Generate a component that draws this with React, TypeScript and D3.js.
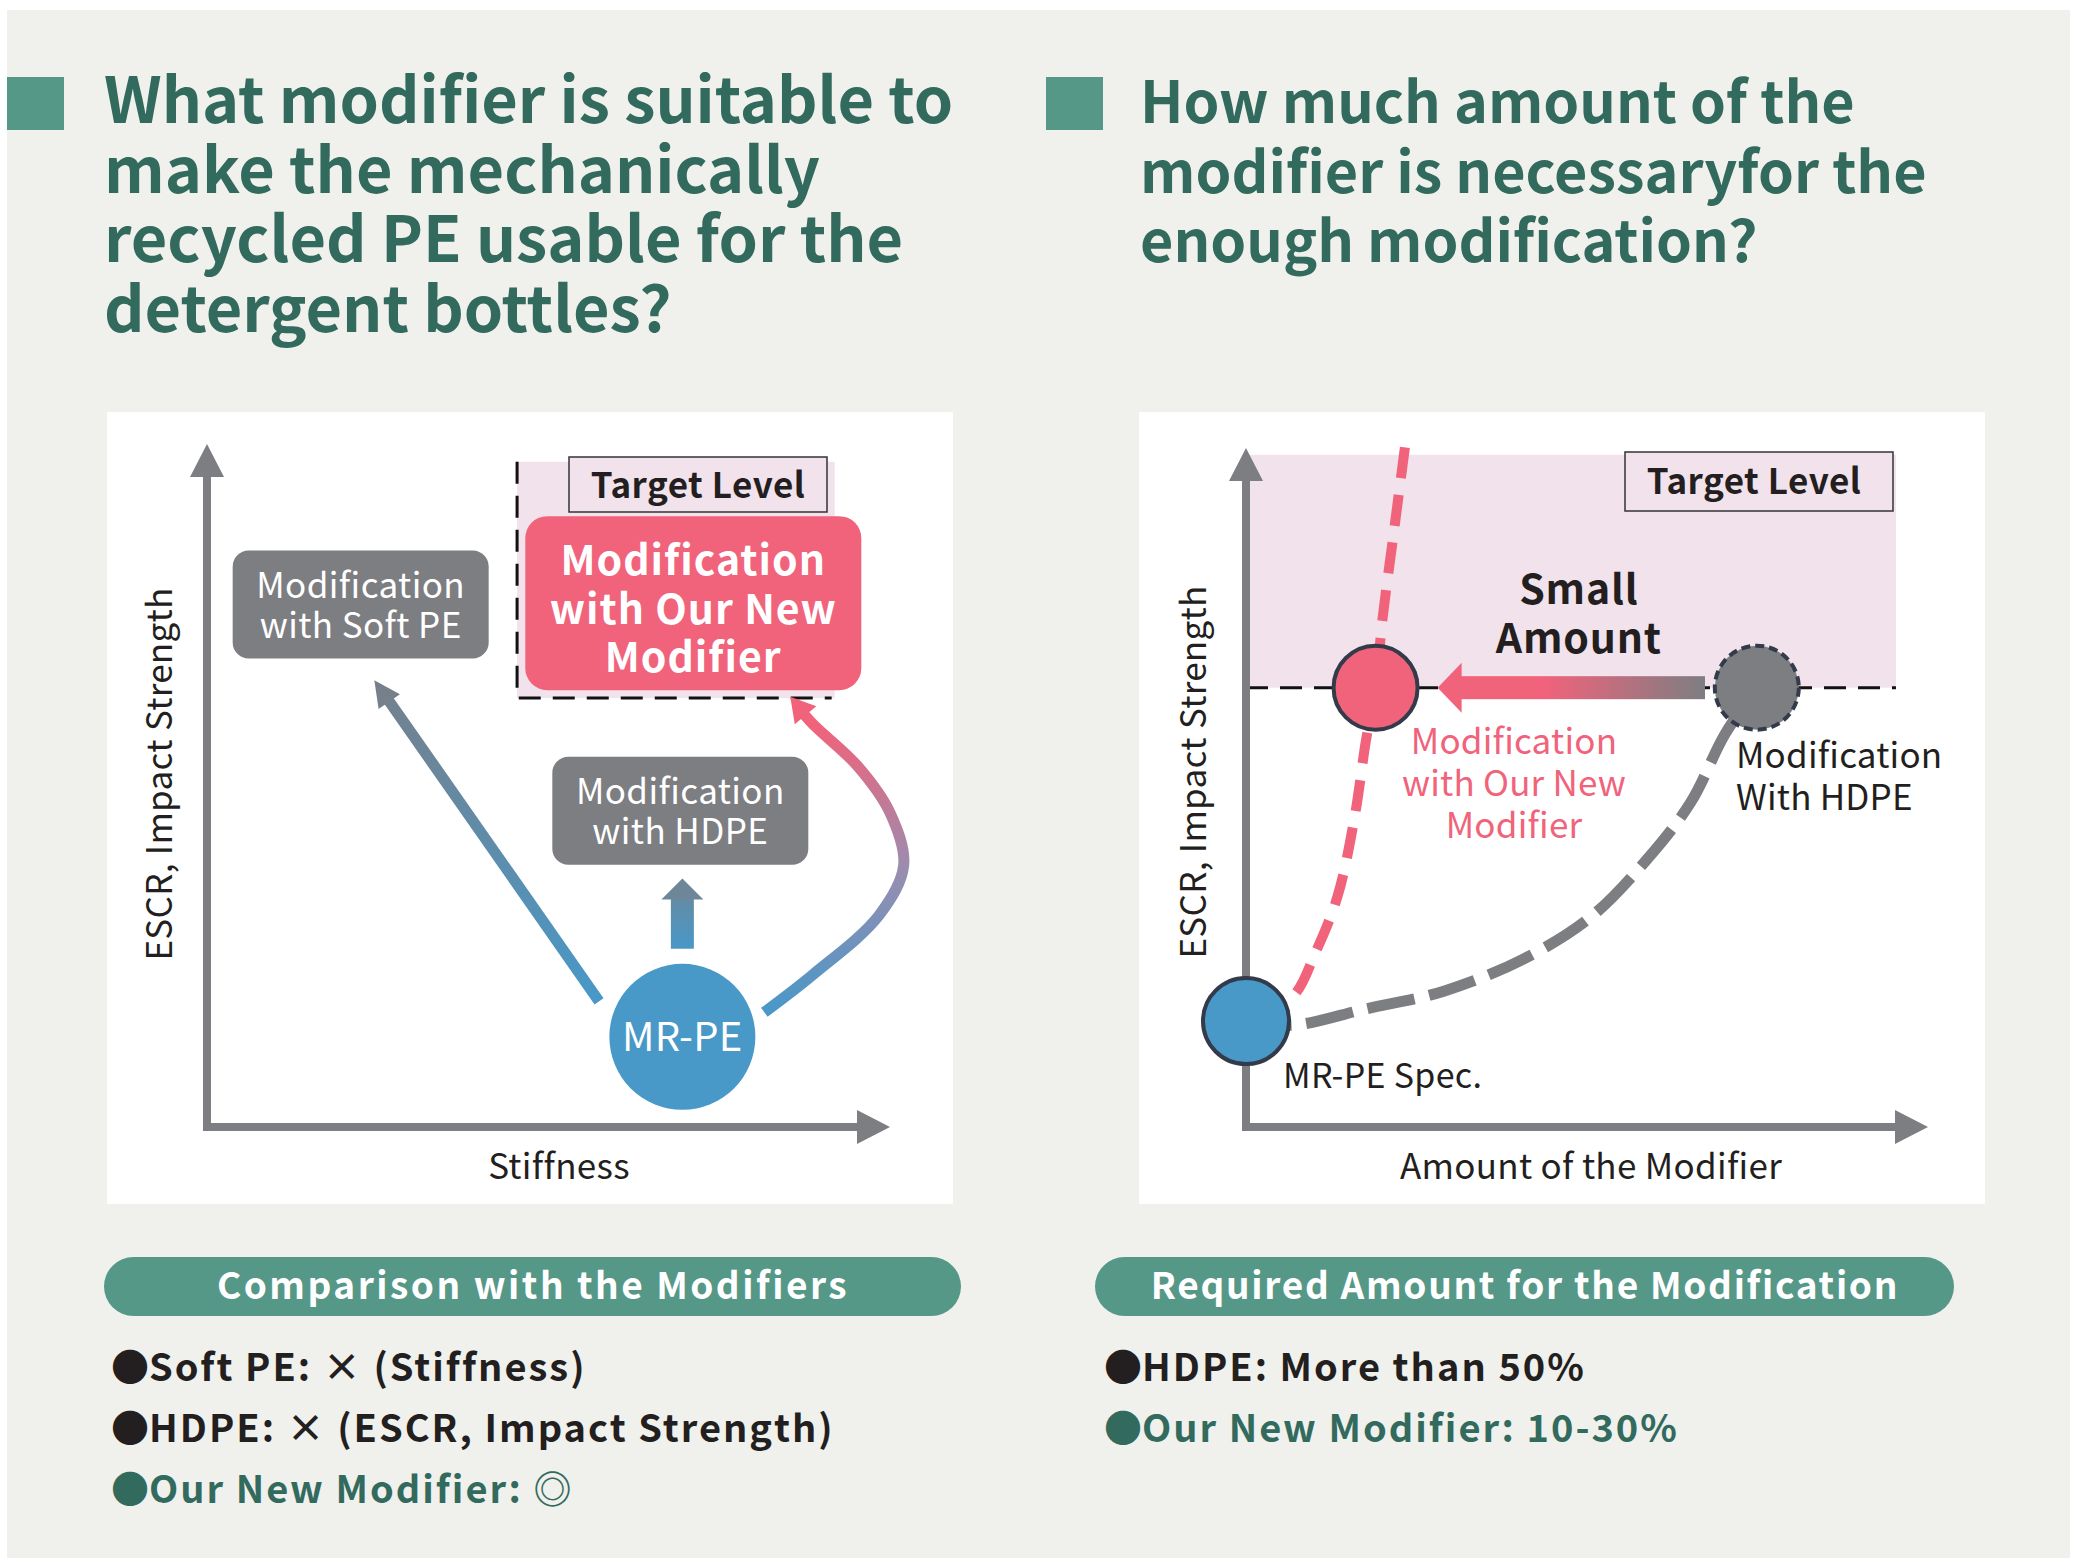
import React from 'react';
import * as d3 from 'd3';

const W = 2089;
const H = 1558;
const FONT = '"Noto Sans CJK JP", "Noto Sans", sans-serif';

const TEAL = '#559888';
const TEAL_DARK = '#336a5e';
const GRAY = '#7d7e82';
const PINK = '#f0637b';
const BLUE = '#4898c8';
const TARGET_FILL = '#f1e2ec';
const INK = '#231f20';

// headings
const leftTitle = ['What modifier is suitable to', 'make the mechanically', 'recycled PE usable for the', 'detergent bottles?'];
const rightTitle = ['How much amount of the', 'modifier is necessaryfor the', 'enough modification?'];

// left diagram, stiffness (x) vs ESCR / impact strength (y), 0-100 units
const mrpe = { x: 69.6, y: 13.2, label: 'MR-PE' };
const leftBoxes = [
  { x: 22.5, y: 76.5, lines: ['Modification', 'with Soft PE'] },
  { x: 69.3, y: 46.3, lines: ['Modification', 'with HDPE'] }
];
const newBox = { x: 71.2, y: 76.7, lines: ['Modification', 'with Our New', 'Modifier'] };
const leftTarget = { x0: 45.4, x1: 91.9, y0: 62.8, y1: 97.4 };
const softArrow: [number, number][] = [[57.4, 18.4], [24.5, 65.4]];
const hdpeArrow: [number, number][] = [[69.6, 26.1], [69.6, 36.4]];
const newArrow: [number, number][] = [[81.6, 16.8], [88.7, 22.3], [98.4, 31.0], [102, 38.3], [100, 46], [95.2, 52.9], [88.7, 59], [85.4, 63]];

// right diagram, amount of modifier (x) vs ESCR (y), 0-100 units
const targetLevel = 64.7;
const specPoint = { x: 0, y: 15.6 };
const newModPoint = { x: 19, y: targetLevel };
const hdpePoint = { x: 74.9, y: targetLevel };
const newModCurve: [number, number][] = [[23.3, 100.1], [21.7, 87.8], [20, 74.7], [19, 64.7], [17.6, 57], [15.9, 45.5], [13.4, 33.9], [10.1, 25.5], [6.9, 19.3], [0, 15.6]];
const hdpeCurve: [number, number][] = [[74.9, 64.7], [70.2, 57.8], [65.2, 47.8], [58.7, 39.3], [50.4, 30.8], [40.6, 24.7], [29, 20], [17.6, 17.4], [6.9, 15], [0, 15.6]];
const smallArrow: [number, number][] = [[67.3, targetLevel], [28.1, targetLevel]];

// summaries
const leftSummary = 'Comparison with the Modifiers';
const rightSummary = 'Required Amount for the Modification';
const leftBullets = [
  { text: 'Soft PE: × (Stiffness)', color: INK },
  { text: 'HDPE: × (ESCR, Impact Strength)', color: INK },
  { text: 'Our New Modifier: ◎', color: TEAL_DARK }
];
const rightBullets = [
  { text: 'HDPE: More than 50%', color: INK },
  { text: 'Our New Modifier: 10-30%', color: TEAL_DARK }
];

const head = (tip: [number, number], from: [number, number], len: number, half: number) => {
  const dx = tip[0] - from[0];
  const dy = tip[1] - from[1];
  const d = Math.hypot(dx, dy) || 1;
  const ux = dx / d, uy = dy / d;
  const bx = tip[0] - ux * len, by = tip[1] - uy * len;
  return `${tip[0]},${tip[1]} ${bx - uy * half},${by + ux * half} ${bx + uy * half},${by - ux * half}`;
};

const App: React.FC = () => {
  const xL = d3.scaleLinear().domain([0, 100]).range([207, 890]);
  const yL = d3.scaleLinear().domain([0, 100]).range([1127, 444]);
  const xR = d3.scaleLinear().domain([0, 100]).range([1246, 1928]);
  const yR = d3.scaleLinear().domain([0, 100]).range([1127, 448]);

  const lineL = d3.line<[number, number]>().x(d => xL(d[0])).y(d => yL(d[1])).curve(d3.curveCatmullRom.alpha(0.5));
  const lineR = d3.line<[number, number]>().x(d => xR(d[0])).y(d => yR(d[1])).curve(d3.curveCatmullRom.alpha(0.5));

  const px = (s: d3.ScaleLinear<number, number>, t: d3.ScaleLinear<number, number>, p: [number, number]): [number, number] => [s(p[0]), t(p[1])];

  const axis = (x: d3.ScaleLinear<number, number>, y: d3.ScaleLinear<number, number>) => {
    const ox = x(0), oy = y(0), tx = x(100), ty = y(100);
    return <g>
        <path d={`M${ox},${ty + 30} V${oy} H${tx - 30}`} fill="none" stroke={GRAY} strokeWidth={8} strokeLinejoin="miter" />
        <polygon points={head([ox, ty], [ox, oy], 33, 17)} fill={GRAY} />
        <polygon points={head([tx, oy], [ox, oy], 33, 17)} fill={GRAY} />
      </g>;
  };

  const softTip = px(xL, yL, softArrow[1]);
  const softFrom = px(xL, yL, softArrow[0]);
  const hdpeTip = px(xL, yL, hdpeArrow[1]);
  const hdpeFrom = px(xL, yL, hdpeArrow[0]);
  const newPts = newArrow.map(p => px(xL, yL, p));
  const newTip = newPts[newPts.length - 1];
  const smallFrom = px(xR, yR, smallArrow[0]);
  const smallTip = px(xR, yR, smallArrow[1]);

  const title = (lines: string[], x: number, size: number) => <text x={x} fontSize={size} fontWeight={700} fill={TEAL_DARK}>
      {lines.map((l, i) => <tspan key={i} x={x} y={123 + i * 69.7}>{l}</tspan>)}
    </text>;

  const bullets = (items: { text: string; color: string }[], x: number) => items.map((b, i) => <text key={i} x={x} y={1381 + i * 61} fontSize={38} fontWeight={700} fill={b.color} letterSpacing={2}>
        <tspan letterSpacing={0}>●</tspan>{b.text}
      </text>);

  return <svg width={W} height={H} style={{ position: 'absolute', left: 0, top: 0 }} fontFamily={FONT}>
      <defs>
        <linearGradient id="gSoft" gradientUnits="userSpaceOnUse" x1={softFrom[0]} y1={softFrom[1]} x2={softTip[0]} y2={softTip[1]}>
          <stop offset="0" stopColor={BLUE} />
          <stop offset="1" stopColor="#76808b" />
        </linearGradient>
        <linearGradient id="gHdpe" gradientUnits="userSpaceOnUse" x1={0} y1={hdpeFrom[1]} x2={0} y2={hdpeTip[1]}>
          <stop offset="0" stopColor={BLUE} />
          <stop offset="1" stopColor="#6e8798" />
        </linearGradient>
        <linearGradient id="gNew" gradientUnits="userSpaceOnUse" x1={0} y1={newPts[0][1]} x2={0} y2={newTip[1] + 30}>
          <stop offset="0" stopColor={BLUE} />
          <stop offset="0.5" stopColor="#9a8db0" />
          <stop offset="1" stopColor={PINK} />
        </linearGradient>
        <linearGradient id="gSmall" gradientUnits="userSpaceOnUse" x1={smallFrom[0]} y1={0} x2={smallTip[0]} y2={0}>
          <stop offset="0" stopColor={GRAY} />
          <stop offset="0.6" stopColor={PINK} />
          <stop offset="1" stopColor={PINK} />
        </linearGradient>
      </defs>

      <rect x={0} y={0} width={W} height={H} fill="#ffffff" />
      <rect x={7} y={10} width={2063} height={H - 10} fill="#f0f0ec" />

      {/* headings */}
      <rect x={7} y={77} width={57} height={53} fill={TEAL} />
      {title(leftTitle, 104, 63)}
      <rect x={1046} y={77} width={57} height={53} fill={TEAL} />
      {title(rightTitle, 1140, 57.5)}

      {/* left panel */}
      <rect x={107} y={412} width={846} height={792} fill="#ffffff" />
      <rect x={xL(leftTarget.x0)} y={yL(leftTarget.y1)} width={xL(leftTarget.x1) - xL(leftTarget.x0)} height={yL(leftTarget.y0) - yL(leftTarget.y1)} fill={TARGET_FILL} />
      <path d={`M${xL(leftTarget.x0)},${yL(leftTarget.y1)} V${yL(leftTarget.y0)} H${xL(leftTarget.x1) - 3}`} fill="none" stroke="#111" strokeWidth={3} strokeDasharray="22 12" />
      <rect x={569} y={457} width={258} height={55} fill={TARGET_FILL} stroke="#333" strokeWidth={1.5} />
      <text x={698} y={498} textAnchor="middle" fontSize={35} fontWeight={700} fill={INK} letterSpacing={0.5}>Target Level</text>
      {axis(xL, yL)}
      <text transform={`translate(172,774) rotate(-90)`} textAnchor="middle" fontSize={35} fill={INK} letterSpacing={0.3}>ESCR, Impact Strength</text>
      <text x={559} y={1179} textAnchor="middle" fontSize={35} fill={INK} letterSpacing={0.3}>Stiffness</text>

      {leftBoxes.map((b, i) => <g key={i}>
          <rect x={xL(b.x) - 128} y={yL(b.y) - 54} width={256} height={108} rx={16} fill={GRAY} />
          {b.lines.map((l, j) => <text key={j} x={xL(b.x)} y={yL(b.y) - 7 + j * 40} textAnchor="middle" fontSize={35} fill="#ffffff" letterSpacing={0.4}>{l}</text>)}
        </g>)}
      <rect x={xL(newBox.x) - 168} y={yL(newBox.y) - 87} width={336} height={174} rx={22} fill={PINK} />
      {newBox.lines.map((l, j) => <text key={j} x={xL(newBox.x)} y={yL(newBox.y) - 28 + j * 48.5} textAnchor="middle" fontSize={41} fontWeight={700} fill="#ffffff" letterSpacing={1}>{l}</text>)}

      <line x1={softFrom[0]} y1={softFrom[1]} x2={softTip[0] + 10} y2={softTip[1] + 14} stroke="url(#gSoft)" strokeWidth={11} />
      <polygon points={head(softTip, softFrom, 26, 13)} fill="#76808b" />
      <rect x={hdpeFrom[0] - 11.5} y={hdpeTip[1] + 20} width={23} height={hdpeFrom[1] - hdpeTip[1] - 20} fill="url(#gHdpe)" />
      <polygon points={head(hdpeTip, hdpeFrom, 21, 21)} fill="#6e8798" />
      <path d={lineL(newArrow.slice(0, -1).concat([[newArrow[newArrow.length - 1][0] + 1.2, newArrow[newArrow.length - 1][1] - 1.6]])) || ''} fill="none" stroke="url(#gNew)" strokeWidth={11} />
      <polygon points={head(newTip, newPts[newPts.length - 2], 24, 14)} fill={PINK} />

      <circle cx={xL(mrpe.x)} cy={yL(mrpe.y)} r={73} fill={BLUE} />
      <text x={xL(mrpe.x)} y={yL(mrpe.y) + 14} textAnchor="middle" fontSize={40} fill="#ffffff" letterSpacing={0.3}>{mrpe.label}</text>

      {/* right panel */}
      <rect x={1139} y={412} width={846} height={792} fill="#ffffff" />
      <rect x={xR(0)} y={yR(99)} width={xR(95.3) - xR(0)} height={yR(targetLevel) - yR(99)} fill={TARGET_FILL} />
      <line x1={xR(0)} x2={xR(95.3)} y1={yR(targetLevel)} y2={yR(targetLevel)} stroke="#111" strokeWidth={3} strokeDasharray="22 12" />
      <rect x={1625} y={452} width={268} height={59} fill={TARGET_FILL} stroke="#333" strokeWidth={1.5} />
      <text x={1754} y={494} textAnchor="middle" fontSize={35} fontWeight={700} fill={INK} letterSpacing={0.5}>Target Level</text>
      {axis(xR, yR)}
      <text transform={`translate(1206,772) rotate(-90)`} textAnchor="middle" fontSize={35} fill={INK} letterSpacing={0.3}>ESCR, Impact Strength</text>
      <text x={1591} y={1179} textAnchor="middle" fontSize={35} fill={INK} letterSpacing={0.3}>Amount of the Modifier</text>

      <path d={lineR(hdpeCurve) || ''} fill="none" stroke={GRAY} strokeWidth={11} strokeDasharray="48 15" strokeDashoffset={23} />
      <path d={lineR(newModCurve) || ''} fill="none" stroke={PINK} strokeWidth={10} strokeDasharray="31 17" />

      <rect x={smallTip[0] + 22} y={smallTip[1] - 11.5} width={smallFrom[0] - smallTip[0] - 22} height={23} fill="url(#gSmall)" />
      <polygon points={head(smallTip, smallFrom, 24, 25)} fill={PINK} />
      <text x={xR(48.8)} y={604} textAnchor="middle" fontSize={41} fontWeight={700} fill={INK} letterSpacing={0.8}>
        <tspan x={xR(48.8)} y={604}>Small</tspan>
        <tspan x={xR(48.8)} y={653}>Amount</tspan>
      </text>

      <circle cx={xR(specPoint.x)} cy={yR(specPoint.y)} r={43} fill={BLUE} stroke="#333a4a" strokeWidth={4} />
      <circle cx={xR(newModPoint.x)} cy={yR(newModPoint.y)} r={42} fill={PINK} stroke="#333a4a" strokeWidth={4} />
      <circle cx={xR(hdpePoint.x)} cy={yR(hdpePoint.y)} r={42} fill={GRAY} stroke="#333a4a" strokeWidth={4} strokeDasharray="9 5" />

      <text x={1283} y={1088} fontSize={34} fill={INK} letterSpacing={0.3}>MR-PE Spec.</text>
      {['Modification', 'with Our New', 'Modifier'].map((l, j) => <text key={j} x={1514} y={754 + j * 42} textAnchor="middle" fontSize={35} fill={PINK} letterSpacing={0.2}>{l}</text>)}
      {['Modification', 'With HDPE'].map((l, j) => <text key={j} x={1736} y={768 + j * 42} fontSize={35} fill={INK} letterSpacing={0.2}>{l}</text>)}

      {/* summaries */}
      <rect x={104} y={1257} width={857} height={59} rx={29.5} fill={TEAL} />
      <text x={533} y={1299} textAnchor="middle" fontSize={37} fontWeight={700} fill="#ffffff" letterSpacing={2.5}>{leftSummary}</text>
      {bullets(leftBullets, 111)}
      <rect x={1095} y={1257} width={859} height={59} rx={29.5} fill={TEAL} />
      <text x={1525} y={1299} textAnchor="middle" fontSize={37} fontWeight={700} fill="#ffffff" letterSpacing={1.7}>{rightSummary}</text>
      {bullets(rightBullets, 1104)}
    </svg>;
};

export default App;
